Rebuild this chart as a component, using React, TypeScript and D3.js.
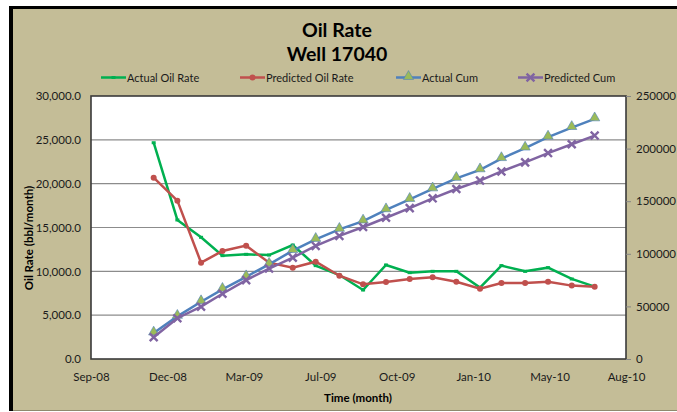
import React, { useEffect, useRef } from "react";
import * as d3 from "d3";

const W = 677;
const H = 412;

// Monthly data points (first of month)
const months = [
  "2008-12-01", "2009-01-01", "2009-02-01", "2009-03-01", "2009-04-01",
  "2009-05-01", "2009-06-01", "2009-07-01", "2009-08-01", "2009-09-01",
  "2009-10-01", "2009-11-01", "2009-12-01", "2010-01-01", "2010-02-01",
  "2010-03-01", "2010-04-01", "2010-05-01", "2010-06-01", "2010-07-01",
];
const actualOilRate = [
  24670, 15860, 13880, 11790, 11940, 11860, 13000, 10650, 9580, 7870,
  10720, 9850, 10000, 10000, 8140, 10650, 10000, 10420, 9130, 8250,
];
const predictedOilRate = [
  20680, 18060, 10990, 12320, 12930, 10990, 10420, 11100, 9500, 8520,
  8790, 9130, 9320, 8820, 8020, 8670, 8670, 8820, 8370, 8250,
];
const actualCum = [
  24670, 40530, 54410, 66200, 78140, 90000, 103000, 113650, 123230, 131100,
  141820, 151670, 161670, 171670, 179810, 190460, 200460, 210880, 220010, 228260,
];
const predictedCum = [
  20680, 38740, 49730, 62050, 74980, 85970, 96390, 107490, 116990, 125510,
  134300, 143430, 152750, 161570, 169590, 178260, 186930, 195750, 204120, 212370,
];

// Axis settings (Excel date axis: Sep-10-2008 start, 100-day major unit)
const xStart = "2008-09-10";
const xMajorDays = 100;
const xMajorCount = 7;
const leftTicks = [0, 5000, 10000, 15000, 20000, 25000, 30000];
const rightTicks = [0, 50000, 100000, 150000, 200000, 250000];

const seriesNames = ["Actual Oil Rate", "Predicted Oil Rate", "Actual Cum", "Predicted Cum"];

const FONT = "Lato, 'Open Sans', sans-serif";

export default function App() {
  const ref = useRef<SVGSVGElement>(null);

  useEffect(() => {
    const svg = d3.select(ref.current);
    svg.selectAll("*").remove();

    const L = 91, R = 626, T = 96, B = 359;
    const parse = d3.utcParse("%Y-%m-%d");
    const start = parse(xStart) as Date;
    const end = d3.utcDay.offset(start, xMajorDays * xMajorCount);
    const x = d3.scaleUtc().domain([start, end]).range([L, R]);
    const yL = d3.scaleLinear().domain([0, 30000]).range([B, T]);
    const yR = d3.scaleLinear().domain([0, 250000]).range([B, T]);
    const dates = months.map((m) => parse(m) as Date);
    const xTicks = d3.range(0, xMajorCount + 1).map((k) => d3.utcDay.offset(start, k * xMajorDays));

    // Chart background
    svg.append("rect").attr("x", 11).attr("y", 8).attr("width", W - 11).attr("height", 402).attr("fill", "#C4BD97");
    svg.append("line").attr("x1", 11).attr("x2", W).attr("y1", 410.5).attr("y2", 410.5).attr("stroke", "#8f8a6e").attr("stroke-width", 1.2);
    svg.append("rect").attr("x", 9).attr("y", 6).attr("width", W - 9).attr("height", 3).attr("fill", "#000");
    svg.append("rect").attr("x", 9).attr("y", 6).attr("width", 4).attr("height", 405).attr("fill", "#000");

    // Plot area
    svg.append("rect").attr("x", L).attr("y", T).attr("width", R - L).attr("height", B - T).attr("fill", "#fff");

    // Gridlines
    svg.append("g").selectAll("line").data(leftTicks.slice(1, -1)).join("line")
      .attr("x1", L).attr("x2", R).attr("y1", (d) => yL(d)).attr("y2", (d) => yL(d))
      .attr("stroke", "#8c8c8c").attr("stroke-width", 1.2);

    svg.append("rect").attr("x", L).attr("y", T).attr("width", R - L).attr("height", B - T)
      .attr("fill", "none").attr("stroke", "#3a3a3a").attr("stroke-width", 1.6);

    // Left axis
    const gl = svg.append("g").attr("transform", `translate(${L - 10},0)`)
      .call(d3.axisLeft(yL).tickValues(leftTicks).tickSize(0).tickPadding(0).tickFormat(d3.format(",.1f")));
    gl.select(".domain").remove();
    gl.selectAll("text").attr("font-family", FONT).attr("font-size", 11.5).attr("fill", "#1a1a1a");

    // Right axis
    const gr = svg.append("g").attr("transform", `translate(${R},0)`)
      .call(d3.axisRight(yR).tickValues(rightTicks).tickSize(5).tickPadding(5).tickFormat(d3.format("d")));
    gr.select(".domain").remove();
    gr.selectAll("line").attr("stroke", "#868686");
    gr.selectAll("text").attr("font-family", FONT).attr("font-size", 11.5).attr("fill", "#1a1a1a");

    // Bottom axis
    const gb = svg.append("g").attr("transform", `translate(0,${B})`)
      .call(d3.axisBottom(x).tickValues(xTicks).tickSize(0).tickPadding(14).tickFormat(d3.utcFormat("%b-%y") as any));
    gb.select(".domain").remove();
    gb.selectAll("text").attr("font-family", FONT).attr("font-size", 11.5).attr("fill", "#1a1a1a");

    // Lines
    const lineL = d3.line<number>().x((_, i) => x(dates[i])).y((d) => yL(d));
    const lineR = d3.line<number>().x((_, i) => x(dates[i])).y((d) => yR(d));

    const green = "#00B050", red = "#C0504D", blue = "#4F81BD", purple = "#8064A2", olive = "#9BBB59";

    svg.append("path").attr("d", lineL(actualOilRate)).attr("fill", "none").attr("stroke", green).attr("stroke-width", 2.5);
    svg.append("g").selectAll("rect").data(actualOilRate).join("rect")
      .attr("x", (_, i) => x(dates[i]) - 2).attr("y", (d) => yL(d) - 1.5).attr("width", 4).attr("height", 3).attr("fill", green);

    svg.append("path").attr("d", lineL(predictedOilRate)).attr("fill", "none").attr("stroke", red).attr("stroke-width", 2.5);
    svg.append("g").selectAll("circle").data(predictedOilRate).join("circle")
      .attr("cx", (_, i) => x(dates[i])).attr("cy", (d) => yL(d)).attr("r", 3).attr("fill", red);

    svg.append("path").attr("d", lineR(actualCum)).attr("fill", "none").attr("stroke", blue).attr("stroke-width", 2.5);
    const tri = d3.symbol().type(d3.symbolTriangle).size(45);
    svg.append("g").selectAll("path").data(actualCum).join("path")
      .attr("d", tri()).attr("transform", (d, i) => `translate(${x(dates[i])},${yR(d) - 1})`)
      .attr("fill", olive).attr("stroke", blue).attr("stroke-width", 0.6);

    svg.append("path").attr("d", lineR(predictedCum)).attr("fill", "none").attr("stroke", purple).attr("stroke-width", 2.5);
    const cross = d3.symbol().type(d3.symbolX).size(42);
    svg.append("g").selectAll("path").data(predictedCum).join("path")
      .attr("d", cross()).attr("transform", (d, i) => `translate(${x(dates[i])},${yR(d)})`)
      .attr("fill", "none").attr("stroke", purple).attr("stroke-width", 2.4);

    // Title
    svg.append("text").attr("x", 337).attr("y", 37).attr("text-anchor", "middle").attr("font-family", FONT)
      .attr("font-weight", "bold").attr("font-size", 19.5).attr("fill", "#000").text("Oil Rate");
    svg.append("text").attr("x", 337).attr("y", 61).attr("text-anchor", "middle").attr("font-family", FONT)
      .attr("font-weight", "bold").attr("font-size", 19.5).attr("fill", "#000").text("Well 17040");

    // Axis titles
    svg.append("text").attr("transform", `translate(33,238) rotate(-90)`).attr("text-anchor", "middle")
      .attr("font-family", FONT).attr("font-weight", "bold").attr("font-size", 11.5).attr("fill", "#000")
      .text("Oil Rate (bbl/month)");
    svg.append("text").attr("x", 358).attr("y", 402).attr("text-anchor", "middle")
      .attr("font-family", FONT).attr("font-weight", "bold").attr("font-size", 11.5).attr("fill", "#000")
      .text("Time (month)");

    // Legend
    const legX = [101, 240, 396, 518];
    const colors = [green, red, blue, purple];
    const ly = 77.5;
    seriesNames.forEach((name, i) => {
      const g = svg.append("g");
      const x0 = legX[i];
      g.append("line").attr("x1", x0).attr("x2", x0 + 25).attr("y1", ly).attr("y2", ly)
        .attr("stroke", colors[i]).attr("stroke-width", 2.5);
      const cx = x0 + 12.5;
      if (i === 0) g.append("rect").attr("x", cx - 2).attr("y", ly - 1.5).attr("width", 4).attr("height", 3).attr("fill", green);
      if (i === 1) g.append("circle").attr("cx", cx).attr("cy", ly).attr("r", 3).attr("fill", red);
      if (i === 2) g.append("path").attr("d", tri()).attr("transform", `translate(${cx},${ly - 1})`).attr("fill", olive).attr("stroke", blue).attr("stroke-width", 0.6);
      if (i === 3) g.append("path").attr("d", cross()).attr("transform", `translate(${cx},${ly})`).attr("fill", "none").attr("stroke", purple).attr("stroke-width", 2.4);
      g.append("text").attr("x", x0 + 26).attr("y", ly + 4).attr("font-family", FONT).attr("font-size", 11)
        .attr("fill", "#1a1a1a").text(name);
    });
  }, []);

  return <svg ref={ref} width={W} height={H} style={{ position: "absolute", left: 0, top: 0 }} />;
}
